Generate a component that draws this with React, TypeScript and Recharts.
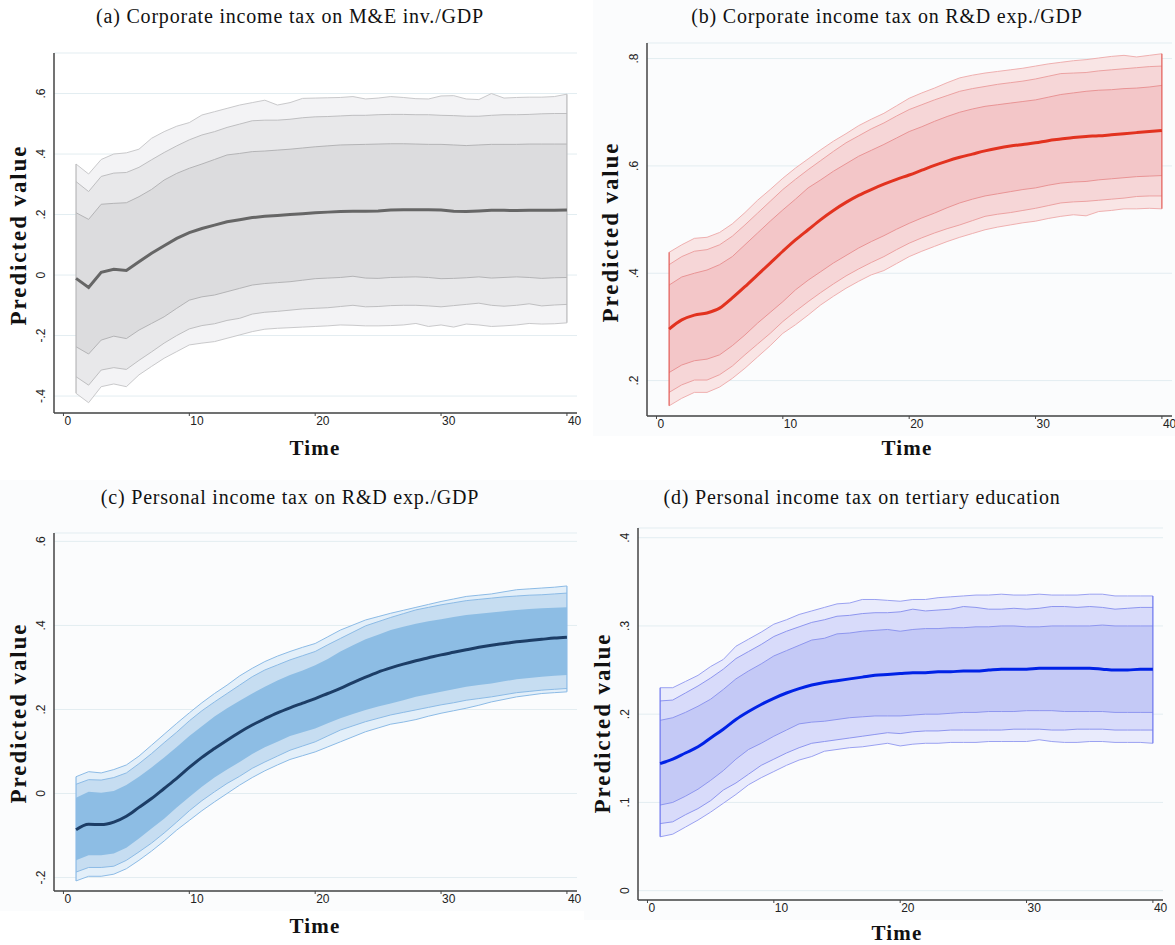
import React from 'react';
import { ComposedChart, Area, Line, XAxis, YAxis, CartesianGrid, ReferenceLine } from 'recharts';

// time periods 1..40
const T = Array.from({ length: 40 }, (_, i) => i + 1);
const X_TICKS = [0, 10, 20, 30, 40];

// (a) Corporate income tax on M&E inv./GDP
const meanA = [-0.011, -0.041, 0.009, 0.019, 0.015, 0.044, 0.072, 0.097, 0.121, 0.14, 0.154, 0.165, 0.176, 0.183, 0.19, 0.194, 0.197, 0.2, 0.203, 0.206, 0.208, 0.21, 0.211, 0.211, 0.212, 0.215, 0.216, 0.216, 0.216, 0.215, 0.211, 0.21, 0.212, 0.214, 0.214, 0.213, 0.214, 0.214, 0.214, 0.215];
const hi1A = [0.206, 0.184, 0.234, 0.237, 0.239, 0.259, 0.283, 0.314, 0.336, 0.353, 0.367, 0.382, 0.397, 0.402, 0.408, 0.41, 0.413, 0.416, 0.42, 0.424, 0.427, 0.43, 0.431, 0.432, 0.433, 0.434, 0.434, 0.433, 0.432, 0.432, 0.43, 0.428, 0.43, 0.432, 0.432, 0.432, 0.433, 0.433, 0.433, 0.433];
const lo1A = [-0.237, -0.261, -0.215, -0.202, -0.21, -0.182, -0.16, -0.138, -0.11, -0.083, -0.072, -0.066, -0.055, -0.044, -0.033, -0.028, -0.025, -0.022, -0.017, -0.012, -0.01, -0.008, -0.004, -0.01, -0.011, -0.008, -0.007, -0.006, -0.008, -0.012, -0.011, -0.009, -0.006, -0.01, -0.008, -0.006, -0.008, -0.011, -0.009, -0.008];
const hi2A = [0.309, 0.276, 0.326, 0.337, 0.339, 0.356, 0.381, 0.405, 0.427, 0.447, 0.463, 0.474, 0.488, 0.499, 0.51, 0.512, 0.512, 0.515, 0.52, 0.523, 0.524, 0.526, 0.528, 0.528, 0.53, 0.531, 0.531, 0.53, 0.53, 0.528, 0.527, 0.525, 0.525, 0.528, 0.53, 0.53, 0.531, 0.533, 0.534, 0.534];
const lo2A = [-0.336, -0.364, -0.314, -0.306, -0.312, -0.282, -0.254, -0.225, -0.2, -0.178, -0.167, -0.161, -0.15, -0.143, -0.129, -0.123, -0.12, -0.116, -0.112, -0.11, -0.108, -0.104, -0.1, -0.105, -0.104, -0.101, -0.1, -0.1, -0.102, -0.105, -0.101, -0.097, -0.093, -0.1, -0.103, -0.1, -0.095, -0.102, -0.099, -0.097];
const hi3A = [0.367, 0.334, 0.382, 0.4, 0.404, 0.416, 0.452, 0.474, 0.492, 0.504, 0.529, 0.54, 0.551, 0.562, 0.57, 0.578, 0.562, 0.57, 0.584, 0.585, 0.586, 0.587, 0.59, 0.582, 0.585, 0.59, 0.587, 0.583, 0.582, 0.592, 0.593, 0.582, 0.58, 0.6, 0.585, 0.587, 0.588, 0.588, 0.59, 0.598];
const lo3A = [-0.391, -0.422, -0.369, -0.36, -0.369, -0.33, -0.302, -0.275, -0.253, -0.231, -0.225, -0.22, -0.209, -0.198, -0.187, -0.179, -0.176, -0.174, -0.172, -0.17, -0.168, -0.165, -0.166, -0.168, -0.168, -0.167, -0.165, -0.16, -0.17, -0.165, -0.172, -0.162, -0.165, -0.17, -0.168, -0.165, -0.16, -0.162, -0.161, -0.158];
const yTicksA = [-0.4, -0.2, 0, 0.2, 0.4, 0.6];

// (b) Corporate income tax on R&D exp./GDP
const meanB = [0.296, 0.313, 0.322, 0.326, 0.335, 0.354, 0.375, 0.397, 0.419, 0.441, 0.462, 0.481, 0.5, 0.517, 0.532, 0.545, 0.556, 0.566, 0.575, 0.583, 0.592, 0.601, 0.609, 0.616, 0.622, 0.628, 0.633, 0.637, 0.64, 0.643, 0.647, 0.65, 0.653, 0.655, 0.656, 0.658, 0.66, 0.662, 0.664, 0.666];
const hi1B = [0.378, 0.393, 0.4, 0.406, 0.416, 0.431, 0.453, 0.475, 0.497, 0.518, 0.538, 0.559, 0.574, 0.59, 0.604, 0.618, 0.629, 0.64, 0.652, 0.664, 0.673, 0.683, 0.692, 0.7, 0.706, 0.711, 0.714, 0.717, 0.72, 0.723, 0.728, 0.733, 0.736, 0.739, 0.741, 0.742, 0.744, 0.745, 0.747, 0.75];
const lo1B = [0.215, 0.229, 0.237, 0.24, 0.248, 0.265, 0.285, 0.307, 0.327, 0.347, 0.369, 0.387, 0.403, 0.419, 0.433, 0.447, 0.459, 0.47, 0.482, 0.493, 0.503, 0.512, 0.522, 0.531, 0.538, 0.544, 0.548, 0.552, 0.556, 0.559, 0.564, 0.568, 0.57, 0.571, 0.574, 0.576, 0.578, 0.58, 0.581, 0.582];
const hi2B = [0.416, 0.431, 0.441, 0.444, 0.453, 0.469, 0.49, 0.512, 0.534, 0.556, 0.575, 0.593, 0.61, 0.627, 0.643, 0.656, 0.669, 0.68, 0.693, 0.705, 0.714, 0.723, 0.731, 0.739, 0.744, 0.748, 0.752, 0.755, 0.758, 0.762, 0.767, 0.772, 0.773, 0.774, 0.777, 0.779, 0.781, 0.783, 0.785, 0.786];
const lo2B = [0.178, 0.192, 0.201, 0.201, 0.211, 0.227, 0.248, 0.268, 0.288, 0.31, 0.329, 0.347, 0.364, 0.38, 0.395, 0.408, 0.42, 0.431, 0.444, 0.456, 0.466, 0.475, 0.483, 0.49, 0.498, 0.506, 0.51, 0.513, 0.517, 0.521, 0.526, 0.531, 0.533, 0.534, 0.536, 0.538, 0.54, 0.543, 0.544, 0.544];
const hi3B = [0.439, 0.453, 0.465, 0.467, 0.476, 0.492, 0.513, 0.536, 0.556, 0.577, 0.596, 0.613, 0.63, 0.646, 0.66, 0.675, 0.687, 0.698, 0.712, 0.726, 0.736, 0.745, 0.755, 0.764, 0.769, 0.773, 0.776, 0.779, 0.782, 0.786, 0.79, 0.793, 0.796, 0.798, 0.801, 0.804, 0.806, 0.803, 0.806, 0.809];
const lo3B = [0.153, 0.167, 0.178, 0.178, 0.188, 0.204, 0.223, 0.244, 0.265, 0.288, 0.304, 0.322, 0.341, 0.357, 0.372, 0.385, 0.397, 0.405, 0.418, 0.431, 0.441, 0.45, 0.459, 0.467, 0.474, 0.481, 0.486, 0.49, 0.494, 0.497, 0.502, 0.506, 0.509, 0.507, 0.515, 0.517, 0.52, 0.52, 0.521, 0.52];
const yTicksB = [0.2, 0.4, 0.6, 0.8];

// (c) Personal income tax on R&D exp./GDP
const meanC = [-0.086, -0.073, -0.074, -0.068, -0.054, -0.033, -0.012, 0.012, 0.036, 0.062, 0.086, 0.107, 0.127, 0.146, 0.163, 0.178, 0.192, 0.204, 0.215, 0.226, 0.238, 0.25, 0.264, 0.277, 0.289, 0.299, 0.308, 0.316, 0.323, 0.33, 0.336, 0.342, 0.348, 0.353, 0.357, 0.361, 0.364, 0.367, 0.37, 0.372];
const hi1C = [-0.01, 0.004, 0.002, 0.006, 0.02, 0.04, 0.062, 0.086, 0.111, 0.137, 0.16, 0.183, 0.203, 0.221, 0.238, 0.254, 0.269, 0.282, 0.293, 0.305, 0.32, 0.338, 0.353, 0.367, 0.378, 0.389, 0.397, 0.404, 0.41, 0.415, 0.42, 0.425, 0.428, 0.431, 0.434, 0.437, 0.439, 0.441, 0.442, 0.443];
const lo1C = [-0.159, -0.147, -0.147, -0.143, -0.129, -0.107, -0.083, -0.06, -0.033, -0.008, 0.016, 0.038, 0.057, 0.075, 0.094, 0.11, 0.123, 0.137, 0.146, 0.155, 0.167, 0.179, 0.189, 0.199, 0.207, 0.214, 0.222, 0.23, 0.236, 0.242, 0.248, 0.254, 0.258, 0.262, 0.267, 0.272, 0.275, 0.278, 0.28, 0.282];
const hi2C = [0.022, 0.033, 0.032, 0.038, 0.049, 0.071, 0.095, 0.121, 0.146, 0.173, 0.197, 0.218, 0.238, 0.258, 0.278, 0.294, 0.306, 0.318, 0.328, 0.338, 0.354, 0.369, 0.384, 0.399, 0.409, 0.419, 0.428, 0.437, 0.443, 0.449, 0.454, 0.459, 0.462, 0.465, 0.468, 0.47, 0.472, 0.473, 0.475, 0.477];
const lo2C = [-0.187, -0.176, -0.176, -0.173, -0.159, -0.139, -0.118, -0.094, -0.068, -0.041, -0.017, 0.004, 0.024, 0.041, 0.06, 0.075, 0.089, 0.103, 0.113, 0.123, 0.137, 0.151, 0.161, 0.171, 0.179, 0.187, 0.193, 0.199, 0.205, 0.211, 0.216, 0.222, 0.226, 0.23, 0.235, 0.24, 0.243, 0.246, 0.248, 0.25];
const hi3C = [0.04, 0.052, 0.049, 0.057, 0.068, 0.089, 0.115, 0.141, 0.167, 0.192, 0.216, 0.238, 0.258, 0.28, 0.298, 0.314, 0.327, 0.338, 0.348, 0.357, 0.373, 0.389, 0.401, 0.413, 0.421, 0.429, 0.436, 0.443, 0.45, 0.457, 0.463, 0.469, 0.472, 0.475, 0.48, 0.485, 0.487, 0.489, 0.491, 0.494];
const lo3C = [-0.208, -0.197, -0.197, -0.192, -0.179, -0.159, -0.137, -0.113, -0.087, -0.064, -0.041, -0.02, 0, 0.02, 0.038, 0.054, 0.068, 0.081, 0.09, 0.099, 0.111, 0.123, 0.135, 0.147, 0.156, 0.165, 0.17, 0.176, 0.184, 0.191, 0.197, 0.203, 0.21, 0.218, 0.224, 0.23, 0.234, 0.238, 0.24, 0.242];
const yTicksC = [-0.2, 0, 0.2, 0.4, 0.6];

// (d) Personal income tax on tertiary education
const meanD = [0.144, 0.149, 0.156, 0.163, 0.173, 0.183, 0.194, 0.203, 0.211, 0.218, 0.224, 0.229, 0.233, 0.236, 0.238, 0.24, 0.242, 0.244, 0.245, 0.246, 0.247, 0.247, 0.248, 0.248, 0.249, 0.249, 0.25, 0.251, 0.251, 0.251, 0.252, 0.252, 0.252, 0.252, 0.252, 0.251, 0.25, 0.25, 0.251, 0.251];
const hi1D = [0.193, 0.196, 0.202, 0.209, 0.217, 0.228, 0.24, 0.249, 0.257, 0.266, 0.272, 0.278, 0.284, 0.286, 0.291, 0.292, 0.294, 0.295, 0.296, 0.294, 0.296, 0.297, 0.297, 0.298, 0.298, 0.299, 0.299, 0.3, 0.3, 0.299, 0.299, 0.3, 0.3, 0.3, 0.3, 0.301, 0.3, 0.3, 0.3, 0.3];
const lo1D = [0.097, 0.1, 0.107, 0.115, 0.125, 0.136, 0.149, 0.16, 0.167, 0.175, 0.182, 0.189, 0.191, 0.192, 0.194, 0.196, 0.197, 0.198, 0.198, 0.198, 0.199, 0.2, 0.2, 0.201, 0.202, 0.202, 0.203, 0.203, 0.203, 0.204, 0.204, 0.204, 0.203, 0.203, 0.203, 0.203, 0.202, 0.202, 0.202, 0.202];
const hi2D = [0.215, 0.216, 0.224, 0.232, 0.241, 0.251, 0.263, 0.271, 0.279, 0.288, 0.294, 0.299, 0.304, 0.307, 0.311, 0.312, 0.314, 0.315, 0.315, 0.316, 0.319, 0.317, 0.318, 0.319, 0.322, 0.321, 0.319, 0.319, 0.32, 0.319, 0.32, 0.322, 0.322, 0.321, 0.322, 0.321, 0.319, 0.32, 0.321, 0.321];
const lo2D = [0.076, 0.078, 0.086, 0.093, 0.102, 0.114, 0.122, 0.132, 0.142, 0.149, 0.156, 0.162, 0.167, 0.169, 0.171, 0.173, 0.175, 0.177, 0.179, 0.178, 0.18, 0.181, 0.181, 0.182, 0.182, 0.182, 0.182, 0.182, 0.183, 0.183, 0.183, 0.182, 0.182, 0.183, 0.183, 0.183, 0.182, 0.182, 0.182, 0.182];
const hi3D = [0.23, 0.23, 0.237, 0.244, 0.254, 0.262, 0.277, 0.285, 0.293, 0.302, 0.307, 0.313, 0.317, 0.321, 0.325, 0.326, 0.33, 0.33, 0.329, 0.328, 0.33, 0.33, 0.332, 0.333, 0.334, 0.335, 0.335, 0.336, 0.335, 0.335, 0.336, 0.335, 0.335, 0.335, 0.336, 0.336, 0.334, 0.334, 0.334, 0.334];
const lo3D = [0.061, 0.064, 0.072, 0.08, 0.089, 0.099, 0.109, 0.12, 0.128, 0.135, 0.142, 0.148, 0.152, 0.158, 0.16, 0.162, 0.163, 0.165, 0.167, 0.164, 0.166, 0.167, 0.167, 0.168, 0.168, 0.168, 0.169, 0.169, 0.169, 0.169, 0.171, 0.169, 0.168, 0.168, 0.169, 0.169, 0.168, 0.168, 0.168, 0.167];
const yTicksD = [0, 0.1, 0.2, 0.3, 0.4];

const SERIF = '"Liberation Serif", "Times New Roman", serif';
const SANS = '"Liberation Sans", Arial, sans-serif';

const fmtY = (v: number) => {
  if (v === 0) return '0';
  const s = String(Math.round(v * 10) / 10);
  return s.replace('0.', '.');
};

const YTick = (props: any) => {
  const { x, y, payload } = props;
  return (
    <text x={x} y={y} transform={`rotate(-90 ${x} ${y})`} textAnchor="middle" fontSize={12} fontFamily={SANS} fill="#222">
      {fmtY(payload.value)}
    </text>
  );
};

const XTick = (props: any) => {
  const { x, y, payload } = props;
  return (
    <text x={x + 1} y={y} dy="0.71em" textAnchor="start" fontSize={12} fontFamily={SANS} fill="#222">
      {payload.value}
    </text>
  );
};

type PanelProps = {
  title: string;
  mean: number[];
  lo1: number[]; hi1: number[];
  lo2: number[]; hi2: number[];
  lo3: number[]; hi3: number[];
  yTicks: number[];
  yDomain: [number, number];
  left: number; top: number; w: number; h: number; mt: number; mr: number;
  bg: string;
  fills: [string, string, string];
  strokes: [string, string, string];
  edge: string;
  meanColor: string;
  curve: 'linear' | 'monotone';
  titleX: number; titleY: number;
  ylabX: number; ylabY: number;
  xlabX: number; xlabY: number;
};

function Panel(p: PanelProps) {
  const rows = T.map((t, i) => ({
    t,
    mean: p.mean[i],
    b1: [p.lo1[i], p.hi1[i]],
    b2: [p.lo2[i], p.hi2[i]],
    b3: [p.lo3[i], p.hi3[i]],
  }));
  const last = T.length - 1;
  return (
    <>
      <div style={{ position: 'absolute', left: p.left, top: p.top, background: p.bg }}>
        <ComposedChart width={p.w} height={p.h} data={rows} margin={{ top: p.mt, right: p.mr, bottom: 0, left: 0 }}>
          <CartesianGrid vertical={false} stroke="#e3edf1" strokeWidth={1} />
          <XAxis
            type="number"
            dataKey="t"
            domain={[-0.75, 40.8]}
            ticks={X_TICKS}
            allowDataOverflow
            height={20}
            tickSize={3}
            tickMargin={0}
            tick={XTick}
            axisLine={{ stroke: '#444', strokeWidth: 1.5 }}
            tickLine={{ stroke: '#444' }}
          />
          <YAxis
            type="number"
            domain={p.yDomain}
            ticks={p.yTicks}
            allowDataOverflow
            width={54}
            tickLine={false}
            tickSize={0}
            tickMargin={9}
            tick={YTick}
            axisLine={{ stroke: '#444', strokeWidth: 1.5 }}
          />
          <Area dataKey="b3" type="linear" isAnimationActive={false} fill={p.fills[2]} fillOpacity={1} stroke={p.strokes[2]} strokeWidth={1} dot={false} activeDot={false} />
          <Area dataKey="b2" type="linear" isAnimationActive={false} fill={p.fills[1]} fillOpacity={1} stroke={p.strokes[1]} strokeWidth={1} dot={false} activeDot={false} />
          <Area dataKey="b1" type="linear" isAnimationActive={false} fill={p.fills[0]} fillOpacity={1} stroke={p.strokes[0]} strokeWidth={1} dot={false} activeDot={false} />
          <ReferenceLine segment={[{ x: T[0], y: p.lo3[0] }, { x: T[0], y: p.hi3[0] }]} stroke={p.edge} strokeWidth={1.2} />
          <ReferenceLine segment={[{ x: T[last], y: p.lo3[last] }, { x: T[last], y: p.hi3[last] }]} stroke={p.edge} strokeWidth={1.2} />
          <Line dataKey="mean" type={p.curve} isAnimationActive={false} stroke={p.meanColor} strokeWidth={3} dot={false} activeDot={false} />
        </ComposedChart>
      </div>
      <div style={{ position: 'absolute', left: p.titleX, top: p.titleY, transform: 'translate(-50%, -50%)', whiteSpace: 'nowrap', fontFamily: SERIF, fontSize: 20, letterSpacing: 0.8, color: '#111' }}>
        {p.title}
      </div>
      <div style={{ position: 'absolute', left: p.ylabX, top: p.ylabY, transform: 'translate(-50%, -50%) rotate(-90deg)', whiteSpace: 'nowrap', fontFamily: SERIF, fontWeight: 'bold', fontSize: 23, letterSpacing: 1.9, color: '#111' }}>
        Predicted value
      </div>
      <div style={{ position: 'absolute', left: p.xlabX, top: p.xlabY, transform: 'translate(-50%, -50%)', whiteSpace: 'nowrap', fontFamily: SERIF, fontWeight: 'bold', fontSize: 21, letterSpacing: 1.2, color: '#111' }}>
        Time
      </div>
    </>
  );
}

export default function App() {
  return (
    <div style={{ position: 'absolute', left: 0, top: 0, width: 1175, height: 945, background: '#fff', overflow: 'hidden' }}>
      <Panel
        title="(a) Corporate income tax on M&E inv./GDP"
        mean={meanA} lo1={lo1A} hi1={hi1A} lo2={lo2A} hi2={hi2A} lo3={lo3A} hi3={hi3A}
        yTicks={yTicksA} yDomain={[-0.456, 0.734]}
        left={0} top={0} w={590} h={433} mt={53} mr={13}
        bg="#ffffff"
        fills={['#dcdcde', '#e8e8ea', '#f3f3f5']}
        strokes={['#b4b4b6', '#bfbfc1', '#c9c9cb']}
        edge="#b8b8ba"
        meanColor="#666666"
        curve="linear"
        titleX={290} titleY={16} ylabX={19} ylabY={235} xlabX={315} xlabY={448}
      />
      <Panel
        title="(b) Corporate income tax on R&D exp./GDP"
        mean={meanB} lo1={lo1B} hi1={hi1B} lo2={lo2B} hi2={hi2B} lo3={lo3B} hi3={hi3B}
        yTicks={yTicksB} yDomain={[0.134, 0.829]}
        left={593} top={0} w={582} h={436} mt={43} mr={3}
        bg="#fbfcfd"
        fills={['#f3c6c8', '#f6d6d7', '#f9e5e5']}
        strokes={['#e99495', '#eca2a2', '#efb0b0']}
        edge="#e35a55"
        meanColor="#e2321f"
        curve="monotone"
        titleX={887} titleY={16} ylabX={611} ylabY={232} xlabX={907} xlabY={448}
      />
      <Panel
        title="(c) Personal income tax on R&D exp./GDP"
        mean={meanC} lo1={lo1C} hi1={hi1C} lo2={lo2C} hi2={hi2C} lo3={lo3C} hi3={hi3C}
        yTicks={yTicksC} yDomain={[-0.232, 0.62]}
        left={0} top={480} w={590} h={431} mt={53} mr={13}
        bg="#fbfcfd"
        fills={['#8dbde4', '#c6ddf1', '#e3eff9']}
        strokes={['none', '#8cbbe6', '#8cbbe6']}
        edge="#8cbbe6"
        meanColor="#1c3d66"
        curve="monotone"
        titleX={290} titleY={497} ylabX={19} ylabY={713} xlabX={315} xlabY={926}
      />
      <Panel
        title="(d) Personal income tax on tertiary education"
        mean={meanD} lo1={lo1D} hi1={hi1D} lo2={lo2D} hi2={hi2D} lo3={lo3D} hi3={hi3D}
        yTicks={yTicksD} yDomain={[-0.0106, 0.411]}
        left={584} top={480} w={591} h={440} mt={48} mr={12}
        bg="#fbfcfd"
        fills={['#c4c9f6', '#d8dbfa', '#e9ebfc']}
        strokes={['#8e96ef', '#8e96ef', '#9aa1f1']}
        edge="#6a74ee"
        meanColor="#0022e6"
        curve="monotone"
        titleX={862} titleY={497} ylabX={603} ylabY={723} xlabX={897} xlabY={933}
      />
    </div>
  );
}
